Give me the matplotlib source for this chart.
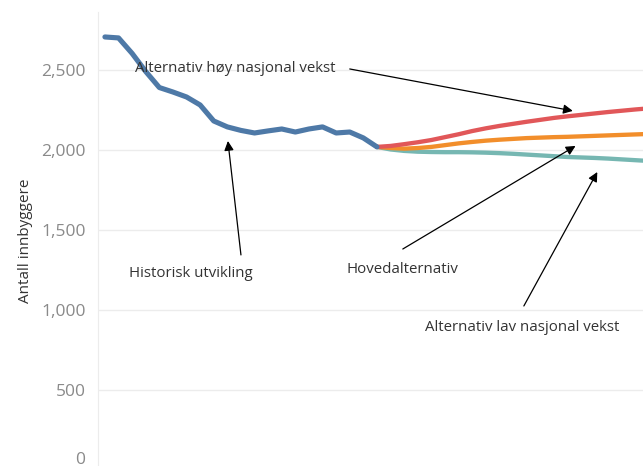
import matplotlib
matplotlib.use("Agg")
import matplotlib.pyplot as plt
import matplotlib.transforms as mtransforms
from matplotlib.ticker import FuncFormatter

# historisk utvikling
hist_years = list(range(2000, 2021))
hist_vals = [2706, 2700, 2603, 2490, 2390, 2362, 2331, 2281, 2181, 2144, 2122,
             2106, 2119, 2131, 2112, 2131, 2144, 2106, 2112, 2075, 2019]

# framskrivinger 2020-2040
proj_years = list(range(2020, 2041))
hoy = [2019, 2025, 2036, 2048, 2062, 2080, 2098, 2118, 2135, 2150, 2163,
       2176, 2188, 2200, 2210, 2219, 2228, 2237, 2245, 2253, 2260]
hoved = [2019, 2012, 2008, 2012, 2019, 2030, 2041, 2050, 2058, 2064, 2069,
         2074, 2077, 2080, 2082, 2085, 2088, 2091, 2094, 2097, 2100]
lav = [2019, 2003, 1994, 1989, 1987, 1986, 1986, 1985, 1983, 1980, 1976,
       1971, 1966, 1961, 1956, 1953, 1950, 1946, 1941, 1936, 1931]

BLUE, RED, ORANGE, TEAL = "#4e79a7", "#e15759", "#f28e2b", "#76b7b2"
INK, MUT, GRID = "#333333", "#8a8a8a", "#ececec"

plt.rcParams["font.family"] = ["Open Sans", "DejaVu Sans"]

fig = plt.figure(figsize=(6.43, 4.66), dpi=100)
ax = fig.add_axes([98 / 643, -4 / 466, 545 / 643, 458 / 466])
ax.set_xlim(1999.49, 2039.56)
ax.set_ylim(0, 2862)

ax.plot(proj_years, lav, color=TEAL, lw=3.1, solid_capstyle="round", zorder=3)
ax.plot(proj_years, hoved, color=ORANGE, lw=3.1, solid_capstyle="round", zorder=4)
ax.plot(proj_years, hoy, color=RED, lw=3.1, solid_capstyle="round", zorder=5)
ax.plot(hist_years, hist_vals, color=BLUE, lw=3.7, solid_capstyle="round",
        solid_joinstyle="round", zorder=6)

ax.set_yticks([0, 500, 1000, 1500, 2000, 2500])
ax.yaxis.set_major_formatter(FuncFormatter(lambda v, p: f"{int(v):,}"))
ax.tick_params(axis="y", length=0, pad=9, labelsize=12.5, labelcolor=MUT)
ax.set_xticks([])
ax.grid(axis="y", color=GRID, lw=1.0)
for s in ["top", "right", "bottom"]:
    ax.spines[s].set_visible(False)
ax.spines["left"].set_color(GRID)
ax.set_ylabel("Antall innbyggere", fontsize=11, color=INK, labelpad=6)

# "0" sits right at the bottom edge; lift it so it stays readable
fig.canvas.draw()
zero = ax.get_yticklabels()[0]
zero.set_transform(zero.get_transform() +
                   mtransforms.ScaledTranslation(0, 12 / 100, fig.dpi_scale_trans))

arrow = dict(arrowstyle="-|>", color="black", lw=0.9, mutation_scale=14,
             shrinkA=0, shrinkB=0)
notes = [
    ("Alternativ høy nasjonal vekst", (2009.56, 2506), (2018.0, 2506), (2034.4, 2244)),
    ("Historisk utvikling", (2006.3, 1225), (2010.0, 1344), (2009.04, 2056)),
    ("Hovedalternativ", (2021.9, 1256), (2021.9, 1381), (2034.6, 2025)),
    ("Alternativ lav nasjonal vekst", (2030.7, 888), (2030.8, 1025), (2036.2, 1862)),
]
for txt, pos, tail, head in notes:
    ax.text(pos[0], pos[1], txt, ha="center", va="center", fontsize=10.8,
            color=INK, zorder=8)
    ax.annotate("", xy=head, xytext=tail, arrowprops=arrow, zorder=7)

fig.savefig("out.png", dpi=100)
